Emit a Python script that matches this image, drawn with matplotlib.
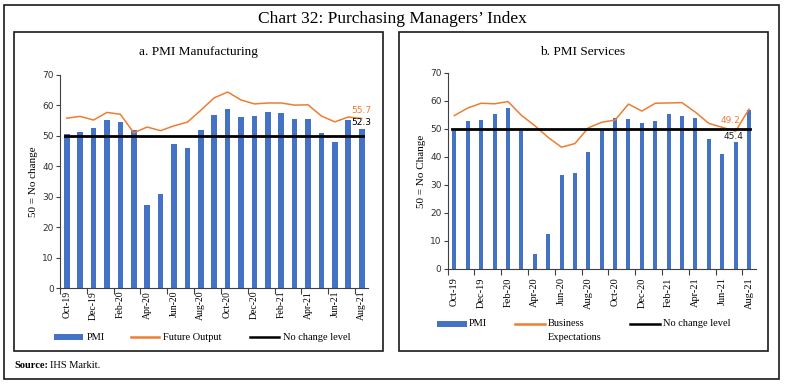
import matplotlib
matplotlib.use("Agg")
import matplotlib.pyplot as plt
from matplotlib.patches import Rectangle
from matplotlib.lines import Line2D

# Data (Oct-19 .. Aug-21, monthly)
months = ["Oct-19", "Nov-19", "Dec-19", "Jan-20", "Feb-20", "Mar-20", "Apr-20", "May-20",
          "Jun-20", "Jul-20", "Aug-20", "Sep-20", "Oct-20", "Nov-20", "Dec-20", "Jan-21",
          "Feb-21", "Mar-21", "Apr-21", "May-21", "Jun-21", "Jul-21", "Aug-21"]

mfg_pmi = [50.6, 51.2, 52.7, 55.3, 54.5, 51.8, 27.4, 30.8, 47.2, 46.0, 52.0, 56.8,
           58.9, 56.3, 56.4, 57.7, 57.5, 55.4, 55.5, 50.8, 48.1, 55.3, 52.3]
future_output = [55.8, 56.4, 55.2, 57.7, 57.1, 51.0, 52.9, 51.7, 53.3, 54.5, 58.4, 62.5,
                 64.4, 61.8, 60.5, 60.8, 60.8, 60.1, 60.2, 56.5, 54.6, 56.2, 55.7]

svc_pmi = [49.2, 52.7, 53.3, 55.5, 57.5, 49.3, 5.4, 12.6, 33.7, 34.2, 41.8, 49.8,
           54.1, 53.7, 52.3, 52.8, 55.3, 54.6, 54.0, 46.4, 41.2, 45.4, 56.7]
business_exp = [54.8, 57.5, 59.2, 59.0, 59.8, 54.9, 51.2, 47.0, 43.5, 44.8, 50.4, 52.4,
                53.2, 58.9, 56.4, 59.2, 59.3, 59.4, 56.0, 52.0, 50.6, 49.2, 57.1]

no_change = 50

BLUE = "#4472C4"
ORANGE = "#ED7D31"
SERIF = "Liberation Serif"
SANS = "DejaVu Sans"

W, H = 785, 385
fig = plt.figure(figsize=(W / 100, H / 100), dpi=100)


def box(x0, y0, x1, y1):
    # rectangle given in pixel coords from the top-left
    fig.patches.append(Rectangle((x0 / W, 1 - y1 / H), (x1 - x0) / W, (y1 - y0) / H,
                                 transform=fig.transFigure, fill=False,
                                 edgecolor="#1a1a1a", lw=1.2))


def ftext(x, y, s, **kw):
    fig.text(x / W, 1 - y / H, s, **kw)


def legend_item(x0, x1, y, kind, color):
    if kind == "patch":
        fig.patches.append(Rectangle((x0 / W, 1 - (y + 3) / H), (x1 - x0) / W, 6 / H,
                                     transform=fig.transFigure, color=color, lw=0))
    else:
        fig.lines.append(Line2D([x0 / W, x1 / W], [1 - y / H, 1 - y / H],
                                transform=fig.transFigure, color=color, lw=1.8))


# borders
box(4, 5, 779, 379)
box(14, 32, 383, 351)
box(399, 32, 768, 351)

ftext(392, 19, "Chart 32: Purchasing Managers\u2019 Index", ha="center", va="center",
      family=SERIF, fontsize=12.5)
ftext(198, 52, "a. PMI Manufacturing", ha="center", va="center", family=SERIF,
      fontsize=9.5)
ftext(583, 52, "b. PMI Services", ha="center", va="center", family=SERIF,
      fontsize=9.5)
ftext(14, 365, "Source:", ha="left", va="center", family=SERIF, fontsize=7.5,
      fontweight="bold")
ftext(50, 365, "IHS Markit.", ha="left", va="center", family=SERIF, fontsize=7.5)

x = list(range(len(months)))


def panel(rect, bars, line, bar_w, ylabel, label_size, label_pad):
    ax = fig.add_axes(rect)
    ax.bar(x, bars, width=bar_w, color=BLUE, zorder=2)
    ax.plot(x, line, color=ORANGE, lw=1.1, zorder=3)
    ax.plot([-0.15, len(x) - 0.9], [no_change, no_change], color="black", lw=2, zorder=4)
    ax.set_xlim(-0.5, len(x) - 0.5)
    ax.set_ylim(0, 70)
    ax.set_yticks(range(0, 71, 10))
    ax.set_xticks([i - 0.5 for i in range(0, len(x), 2)])
    ax.set_xticks(x[::2], minor=True)
    ax.set_xticklabels([])
    ax.set_xticklabels(months[::2], minor=True, rotation=90, family=SERIF,
                       fontsize=label_size)
    ax.tick_params(axis="x", which="major", length=4, width=0.8, color="#404040")
    ax.tick_params(axis="x", which="minor", length=0, pad=label_pad)
    ax.tick_params(axis="y", length=3, width=0.8, color="#404040", labelsize=6.5,
                   labelcolor="#303030", pad=1.5)
    for lab in ax.get_yticklabels():
        lab.set_family(SANS)
    for s in ["top", "right"]:
        ax.spines[s].set_visible(False)
    for s in ["left", "bottom"]:
        ax.spines[s].set_color("#404040")
        ax.spines[s].set_linewidth(0.8)
    ax.set_ylabel(ylabel, family=SERIF, fontsize=8, labelpad=3)
    return ax


ax1 = panel([60 / W, 1 - 288 / H, 308.4 / W, 213 / H], mfg_pmi, future_output, 0.42,
            "50 = No change", 7, 2)
ax1.annotate(f"{future_output[-1]:.1f}", (22, future_output[-1]), xytext=(0, 5.5),
             textcoords="offset points", ha="center", va="center", color=ORANGE,
             family=SANS, fontsize=6.5)
ax1.annotate(f"{mfg_pmi[-1]:.1f}", (22, mfg_pmi[-1]), xytext=(0, 4.5),
             textcoords="offset points", ha="center", va="center", color="black",
             family=SANS, fontsize=6.5)

ax2 = panel([447.7 / W, 1 - 269 / H, 308 / W, 196 / H], svc_pmi, business_exp, 0.3,
            "50 = No Change", 7.5, 6)
ax2.annotate(f"{business_exp[21]:.1f}", (21, business_exp[21]), xytext=(-3.5, 8),
             textcoords="offset points", ha="center", va="center", color=ORANGE,
             family=SANS, fontsize=6.5)
ax2.annotate(f"{svc_pmi[21]:.1f}", (21, svc_pmi[21]), xytext=(-1.5, 4),
             textcoords="offset points", ha="center", va="center", color="#202020",
             family=SANS, fontsize=6.5)

# legends
lfont = dict(family=SERIF, fontsize=7.5, va="center", ha="left")
legend_item(54, 83, 337, "patch", BLUE)
ftext(87, 337, "PMI", **lfont)
legend_item(131, 159, 337, "line", ORANGE)
ftext(163, 337, "Future Output", **lfont)
legend_item(250, 279, 337, "line", "black")
ftext(283, 337, "No change level", **lfont)

legend_item(437, 467, 324, "patch", BLUE)
ftext(469, 324, "PMI", **lfont)
legend_item(515, 545, 324, "line", ORANGE)
ftext(548, 324, "Business", **lfont)
ftext(548, 337, "Expectations", **lfont)
legend_item(630, 660, 324, "line", "black")
ftext(663, 324, "No change level", **lfont)

fig.savefig("out.png", dpi=100)
